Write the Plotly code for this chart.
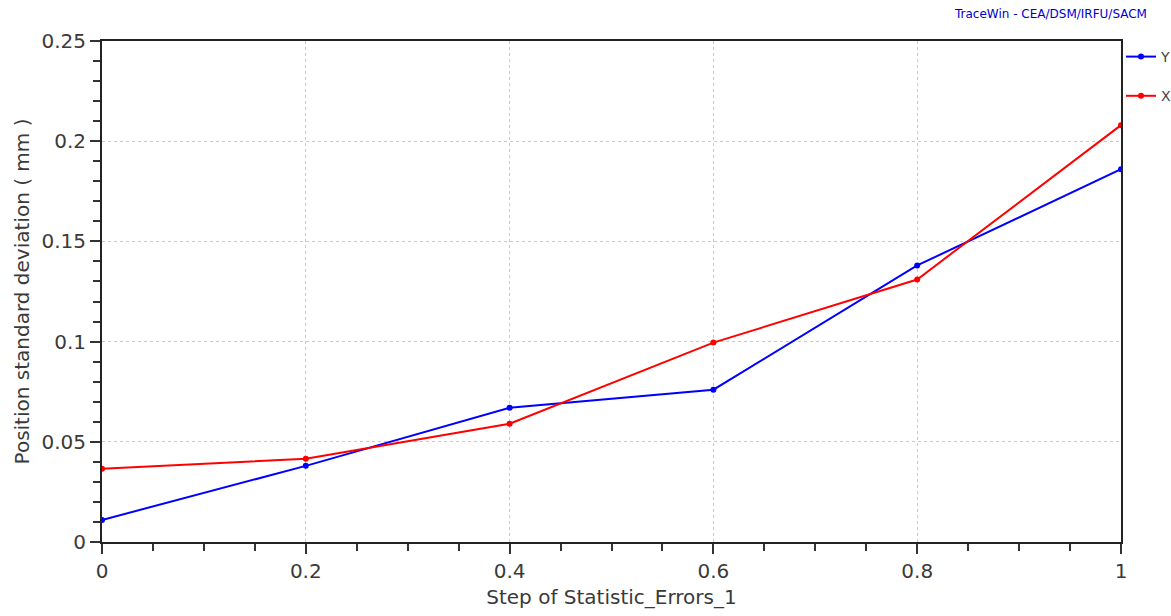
import plotly.graph_objects as go

steps = [0, 0.2, 0.4, 0.6, 0.8, 1.0]
y_std = [0.011, 0.038, 0.067, 0.076, 0.138, 0.186]
x_std = [0.0366, 0.0415, 0.059, 0.0995, 0.131, 0.208]

FONT = "DejaVu Sans"
fig = go.Figure()
fig.add_trace(go.Scatter(x=steps, y=y_std, name="Y", mode="lines+markers",
                         line=dict(color="#0000ff", width=2),
                         marker=dict(size=6, color="#0000ff"), legendgroup="Y"))
fig.add_trace(go.Scatter(x=steps, y=x_std, name="X", mode="lines+markers",
                         line=dict(color="#ff0000", width=2),
                         marker=dict(size=6, color="#ff0000"), legendgroup="X"))

axis_common = dict(
    showline=True, linecolor="#222", linewidth=2, mirror=True,
    ticks="outside", ticklen=10, tickwidth=2, tickcolor="#333",
    showgrid=True, gridcolor="#c8c8c8", griddash="dot", gridwidth=1,
    zeroline=False,
    tickfont=dict(family=FONT, size=20, color="#3a3a3a"),
)

fig.update_layout(
    width=1171, height=616,
    margin=dict(l=102, r=50, t=41, b=74, autoexpand=False),
    plot_bgcolor="white", paper_bgcolor="white",
    font=dict(family=FONT, color="#3a3a3a"),
    showlegend=True,
    legend=dict(x=1.0, y=1.0, xanchor="left", yanchor="top",
                font=dict(family=FONT, size=14, color="#444"),
                bgcolor="rgba(0,0,0,0)", tracegroupgap=18, itemwidth=30,
                traceorder="grouped"),
    xaxis=dict(range=[0, 1], dtick=0.2, tickformat="~g",
               minor=dict(dtick=0.05, ticklen=7, tickwidth=2, tickcolor="#333", ticks="outside", showgrid=False),
               title=dict(text="Step of Statistic_Errors_1", font=dict(family=FONT, size=20, color="#3a3a3a"), standoff=8),
               **axis_common),
    yaxis=dict(range=[0, 0.25], dtick=0.05, tickformat="~g",
               minor=dict(dtick=0.01, ticklen=7, tickwidth=2, tickcolor="#333", ticks="outside", showgrid=False),
               title=dict(text="Position standard deviation ( mm )", font=dict(family=FONT, size=20, color="#3a3a3a"), standoff=6),
               **axis_common),
)
fig.add_annotation(text="TraceWin - CEA/DSM/IRFU/SACM", xref="paper", yref="paper",
                   x=1.0, y=1.0, yshift=27, xanchor="right", yanchor="middle", xshift=28,
                   showarrow=False, font=dict(family=FONT, size=12, color="#0000cc"))

fig.write_html("out.html")
